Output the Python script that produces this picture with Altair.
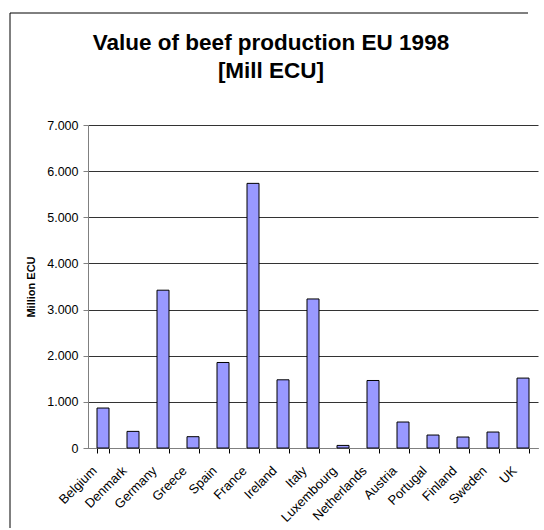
import altair as alt
import pandas as pd

# Beef production value per member state, 1998 (million ECU)
countries = ["Belgium", "Denmark", "Germany", "Greece", "Spain", "France", "Ireland",
             "Italy", "Luxembourg", "Netherlands", "Austria", "Portugal", "Finland",
             "Sweden", "UK"]
values = [866, 360, 3420, 245, 1853, 5735, 1478, 3230, 56, 1463, 563, 281, 238, 346, 1515]
y_ticks = [0, 1000, 2000, 3000, 4000, 5000, 6000, 7000]

df = pd.DataFrame({"country": countries, "value": values})

FONT = "Liberation Sans"

bars = alt.Chart(df).mark_bar(color="#9999FF", stroke="#000000", strokeWidth=1).encode(
    x=alt.X(
        "country:N",
        sort=countries,
        title=None,
        scale=alt.Scale(paddingInner=0.6, paddingOuter=0.3),
        axis=alt.Axis(
            labelAngle=-45,
            labelFont=FONT,
            labelFontSize=13,
            labelColor="#000000",
            labelOffset=-13,
            labelPadding=11,
            tickBand="extent",
            tickSize=5,
            tickColor="#000000",
            domainColor="#808080",
            grid=False,
        ),
    ),
    y=alt.Y(
        "value:Q",
        scale=alt.Scale(domain=[0, 7000]),
        axis=alt.Axis(
            values=y_ticks,
            title="Million ECU",
            titleFont=FONT,
            titleFontSize=11,
            titleFontWeight="bold",
            titleColor="#000000",
            titlePadding=10,
            labelFont=FONT,
            labelFontSize=12.5,
            labelColor="#000000",
            labelPadding=5,
            labelExpr="datum.value == 0 ? '0' : replace(format(datum.value, ','), ',', '.')",
            tickSize=5,
            tickColor="#808080",
            domainColor="#808080",
            gridColor="#333333",
            gridWidth=1,
        ),
    ),
)

# Outer chart frame: left and top edges only
frame_data = pd.DataFrame({"k": [0]})
frame_left = alt.Chart(frame_data).mark_rule(color="#000000", strokeWidth=1).encode(
    x=alt.value(-78), x2=alt.value(-78), y=alt.value(-112), y2=alt.value(410)
)
frame_top = alt.Chart(frame_data).mark_rule(color="#000000", strokeWidth=1).encode(
    x=alt.value(-78), x2=alt.value(440), y=alt.value(-112), y2=alt.value(-112)
)

chart = alt.layer(bars, frame_left, frame_top).properties(
    width=450,
    height=323,
    autosize=alt.AutoSizeParams(type="none"),
    padding={"left": 88, "top": 125, "right": 6, "bottom": 80},
    title=alt.Title(
        text=["Value of beef production EU 1998", "[Mill ECU]"],
        font=FONT,
        fontSize=22.5,
        fontWeight="bold",
        color="#000000",
        anchor="middle",
        frame="group",
        dx=-42,
        dy=70,
        lineHeight=28,
        offset=0,
    ),
    background="#FFFFFF",
).configure_view(stroke="transparent", strokeWidth=0)

chart.save("out.html", embed_options={"renderer": "svg", "actions": False})
